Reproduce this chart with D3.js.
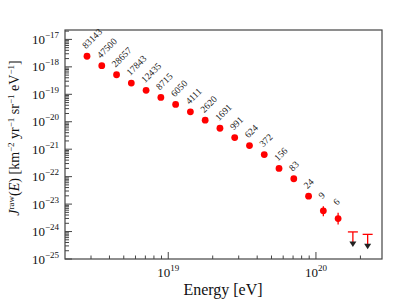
<!DOCTYPE html>
<html><head><meta charset="utf-8">
<script src="https://cdn.jsdelivr.net/npm/d3@7"></script>
<style>body{margin:0;background:#fff}svg{display:block}</style>
</head><body>
<script>
const logE = [18.45,18.55,18.65,18.75,18.85,18.95,19.05,19.15,19.25,19.35,19.45,19.55,19.65,19.75,19.85,19.95,20.05,20.15];
const flux = [2.43e-18,1.10e-18,5.16e-19,2.57e-19,1.39e-19,7.7e-20,4.28e-20,2.29e-20,1.14e-20,5.8e-21,2.65e-21,1.36e-21,6.35e-22,2.0e-22,8.4e-23,1.95e-23,5.7e-24,2.97e-24];
const counts = ["83143","47500","28657","17843","12435","8715","6050","4111","2620","1691","991","624","372","156","83","24","9","6"];
const errLo = [null,null,null,null,null,null,null,null,null,null,null,null,null,null,null,null,3.6e-24,1.8e-24];
const errHi = [null,null,null,null,null,null,null,null,null,null,null,null,null,null,null,null,8.4e-24,4.8e-24];
const ulLogE = [20.25,20.35];
const ulFlux = [9.7e-25,7.9e-25];
const yTickExp = [-17,-18,-19,-20,-21,-22,-23,-24,-25];
const xTickExp = [19,20];

const W=407,H=306, L=65,R=382,T=30,B=259;
const font="'Liberation Serif','Times New Roman',serif";
const svg=d3.select("body").append("svg").attr("width",W).attr("height",H);
const x=d3.scaleLog().domain([2e18,2.8e20]).range([L,R]);
const y=d3.scaleLog().domain([1e-25,2.2e-17]).range([B,T]);

const xMinor=[];
for(let e=18;e<=20;e++)for(let m=2;m<=9;m++){const v=m*Math.pow(10,e);if(v>2e18&&v<2.8e20)xMinor.push(v);}
const yMinor=[];
for(let e=-25;e<=-17;e++)for(let m=2;m<=9;m++){const v=m*Math.pow(10,e);if(v>1e-25&&v<2.2e-17)yMinor.push(v);}
const axc="#444";
svg.append("g").selectAll("line").data(xMinor).join("line")
 .attr("x1",d=>x(d)).attr("x2",d=>x(d)).attr("y1",B).attr("y2",B-3.5).attr("stroke",axc);
svg.append("g").selectAll("line").data(xTickExp).join("line")
 .attr("x1",d=>x(Math.pow(10,d))).attr("x2",d=>x(Math.pow(10,d))).attr("y1",B).attr("y2",B-7).attr("stroke",axc);
svg.append("g").selectAll("line").data(yMinor).join("line")
 .attr("x1",L).attr("x2",L+4).attr("y1",d=>y(d)).attr("y2",d=>y(d)).attr("stroke",axc);
svg.append("g").selectAll("line").data(yTickExp).join("line")
 .attr("x1",L).attr("x2",L+7).attr("y1",d=>y(Math.pow(10,d))).attr("y2",d=>y(Math.pow(10,d))).attr("stroke",axc);
svg.append("rect").attr("x",L).attr("y",T).attr("width",R-L).attr("height",B-T)
 .attr("fill","none").attr("stroke",axc).attr("stroke-width",1.2);

const yl=svg.append("g").attr("font-family",font).attr("fill","#111");
yTickExp.forEach(e=>{
  const t=yl.append("text").attr("x",59).attr("y",y(Math.pow(10,e))+4.5).attr("text-anchor","end").attr("font-size",13);
  t.append("tspan").text("10");
  t.append("tspan").attr("dy",-6).attr("font-size",9).text("\u2212"+Math.abs(e));
});
xTickExp.forEach(e=>{
  const t=yl.append("text").attr("x",x(Math.pow(10,e))).attr("y",277).attr("text-anchor","middle").attr("font-size",13);
  t.append("tspan").text("10");
  t.append("tspan").attr("dy",-6).attr("font-size",9).text(String(e));
});
svg.append("text").attr("x",223).attr("y",295).attr("text-anchor","middle").attr("font-family",font)
 .attr("font-size",16).attr("fill","#111").text("Energy [eV]");
const yt=svg.append("text").attr("transform","translate(19,138) rotate(-90)").attr("text-anchor","middle")
 .attr("font-family",font).attr("font-size",14).attr("fill","#111");
yt.append("tspan").attr("font-style","italic").text("J");
yt.append("tspan").attr("dy",-5.5).attr("font-size",9).text("raw");
yt.append("tspan").attr("dy",5.5).text("(");
yt.append("tspan").attr("font-style","italic").text("E");
yt.append("tspan").text(") [km");
yt.append("tspan").attr("dy",-5.5).attr("font-size",9).text("\u22122");
yt.append("tspan").attr("dy",5.5).text(" yr");
yt.append("tspan").attr("dy",-5.5).attr("font-size",9).text("\u22121");
yt.append("tspan").attr("dy",5.5).text(" sr");
yt.append("tspan").attr("dy",-5.5).attr("font-size",9).text("\u22121");
yt.append("tspan").attr("dy",5.5).text(" eV");
yt.append("tspan").attr("dy",-5.5).attr("font-size",9).text("\u22121");
yt.append("tspan").attr("dy",5.5).text("]");

const pts=logE.map((le,i)=>({x:x(Math.pow(10,le)),y:y(flux[i]),lo:errLo[i],hi:errHi[i],c:counts[i]}));
const g=svg.append("g");
g.selectAll("line.err").data(pts.filter(d=>d.lo!=null)).join("line").attr("class","err")
 .attr("x1",d=>d.x).attr("x2",d=>d.x).attr("y1",d=>y(d.lo)).attr("y2",d=>y(d.hi)).attr("stroke","#f00").attr("stroke-width",1.3);
g.selectAll("circle").data(pts).join("circle").attr("cx",d=>d.x).attr("cy",d=>d.y).attr("r",3.4).attr("fill","#f00");
g.selectAll("text").data(pts).join("text")
 .attr("transform",d=>`translate(${d.x-1},${(d.hi!=null?y(d.hi):d.y)-7}) rotate(-45)`)
 .attr("font-family",font).attr("font-size",9.5).attr("fill","#222").text(d=>d.c);

const ul=ulLogE.map((le,i)=>({x:x(Math.pow(10,le)),y:y(ulFlux[i])}));
ul.forEach(d=>{
  g.append("line").attr("x1",d.x-5).attr("x2",d.x+5).attr("y1",d.y).attr("y2",d.y).attr("stroke","#f00").attr("stroke-width",1.3);
  g.append("line").attr("x1",d.x).attr("x2",d.x).attr("y1",d.y).attr("y2",d.y+10).attr("stroke","#f00").attr("stroke-width",1.3);
  g.append("path").attr("d",`M${d.x-3.5},${d.y+9.5}L${d.x+3.5},${d.y+9.5}L${d.x},${d.y+15}Z`).attr("fill","#222");
});
</script>
</body></html>
